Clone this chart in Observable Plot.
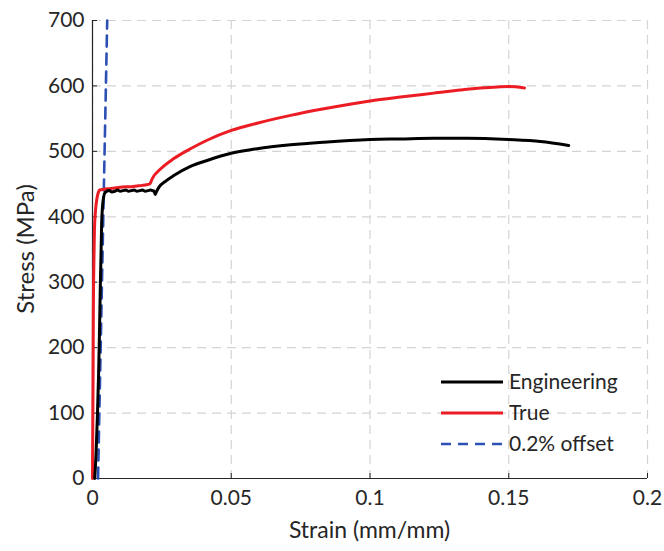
<!DOCTYPE html>
<html>
<head>
<meta charset="utf-8">
<script src="https://cdn.jsdelivr.net/npm/d3@7"></script>
<script src="https://cdn.jsdelivr.net/npm/@observablehq/plot@0.6"></script>
<style>
  body { margin: 0; background: #fff; }
  #wrap { position: relative; width: 664px; height: 551px; font-family: Lato, sans-serif; }
  #legend { position: absolute; left: 0; top: 0; pointer-events: none; }
</style>
</head>
<body>
<div id="wrap"></div>
<script>
// ---- data ----
const engStrain = [0.0008,0.0013,0.0018,0.0022,0.0025,0.0028,0.0031,0.0033,0.0036,0.0040,0.0045,0.006,0.007,0.008,0.009,0.010,0.011,0.012,0.013,0.014,0.015,0.016,0.017,0.018,0.019,0.020,0.021,0.0215,0.0222,0.0226,0.0229,0.0239,0.0265,0.0293,0.0353,0.0413,0.05,0.0593,0.0714,0.0834,0.1,0.111,0.123,0.135,0.15,0.1614,0.1716];
const engStress = [0,40,100,160,220,290,350,390,415,430,437,440,438,439,441,439,440,441,439,440,441,439,440,441,439,440,441,440,439,434,437,445,455,463,477,486,497,504,510,514,518,519,520,520,518,515,509];

const trueStrain = [0,0.0001,0.0002,0.0003,0.0005,0.0007,0.0011,0.0016,0.0021,0.0026,0.004,0.006,0.008,0.010,0.012,0.014,0.016,0.018,0.0195,0.0205,0.0209,0.0215,0.0245,0.0293,0.0353,0.0413,0.05,0.0593,0.0714,0.0834,0.1,0.111,0.123,0.135,0.1446,0.15,0.1557];
const trueStress = [0,80,150,250,330,380,410,428,437,441,442,443,444,445,446,446,447,448,449,450,452,458,473,489,504,517,532,543,555,565,577,583,589,595,598,599,597];

const offsetStrain = [0.002, 0.0053];
const offsetStress = [0, 700];

const xTicks = [0, 0.05, 0.1, 0.15, 0.2];
const yTicks = [0, 100, 200, 300, 400, 500, 600, 700];
const seriesNames = ["Engineering", "True", "0.2% offset"];
const seriesColors = ["#000000", "#ec1c24", "#2d50b4"];
const xLabel = "Strain (mm/mm)";
const yLabel = "Stress (MPa)";

const eng = engStrain.map((x, i) => ({x, y: engStress[i]}));
const tru = trueStrain.map((x, i) => ({x, y: trueStress[i]}));
const off = offsetStrain.map((x, i) => ({x, y: offsetStress[i]}));

const W = 664, H = 551, mL = 92, mR = 17, mT = 20, mB = 73;
const frameW = W - mL - mR, frameH = H - mT - mB;
const axisColor = "#262626";

const chart = Plot.plot({
  width: W, height: H,
  marginLeft: mL, marginRight: mR, marginTop: mT, marginBottom: mB,
  style: {fontFamily: "Lato, sans-serif", fontSize: "21px", color: axisColor, background: "#fff"},
  x: {domain: [0, 0.2]},
  y: {domain: [0, 700]},
  marks: [
    Plot.gridX(xTicks, {stroke: "#d4d4d4", strokeOpacity: 1, strokeWidth: 1.2, strokeDasharray: "9,6"}),
    Plot.gridY(yTicks, {stroke: "#d4d4d4", strokeOpacity: 1, strokeWidth: 1.2, strokeDasharray: "9,6"}),
    Plot.axisX(xTicks, {tickSize: 0, tickPadding: 12, tickFormat: d => d === 0 ? "0" : String(d), label: null, fontSize: 21}),
    Plot.axisY(yTicks, {tickSize: 0, tickPadding: 8, label: null, fontSize: 21}),
    Plot.tickX(xTicks, {x: d => d, stroke: axisColor, strokeWidth: 1, insetTop: frameH - 5}),
    Plot.tickY(yTicks, {y: d => d, stroke: axisColor, strokeWidth: 1, insetRight: frameW - 5}),
    Plot.ruleX([0], {stroke: axisColor, strokeWidth: 1.2}),
    Plot.ruleY([0], {stroke: axisColor, strokeWidth: 1.2}),
    Plot.line(off, {x: "x", y: "y", stroke: seriesColors[2], strokeWidth: 2.6, strokeDasharray: "11,7"}),
    Plot.line(tru, {x: "x", y: "y", stroke: seriesColors[1], strokeWidth: 3, curve: "monotone-x"}),
    Plot.line(eng, {x: "x", y: "y", stroke: seriesColors[0], strokeWidth: 3, curve: "monotone-x"})
  ]
});
document.getElementById("wrap").appendChild(chart);

// overlay: axis titles and legend (inside the axes, lower right)
const lg = d3.select("#wrap").append("svg").attr("id", "legend").attr("width", W).attr("height", H)
  .attr("font-family", "Lato, sans-serif").attr("fill", axisColor);
lg.append("text").attr("x", mL + frameW / 2).attr("y", 530).attr("dy", "0.35em")
  .attr("text-anchor", "middle").attr("font-size", 23).text(xLabel);
lg.append("text").attr("transform", `translate(26, ${mT + frameH / 2}) rotate(-90)`).attr("dy", "0.35em")
  .attr("text-anchor", "middle").attr("font-size", 24).text(yLabel);
const rows = lg.selectAll("g.row").data(seriesNames).join("g").attr("class", "row")
  .attr("transform", (d, i) => `translate(441, ${382 + i * 31})`);
rows.append("line").attr("x1", 0).attr("x2", 62).attr("y1", 0).attr("y2", 0)
  .attr("stroke", (d, i) => seriesColors[i])
  .attr("stroke-width", (d, i) => i === 2 ? 2.6 : 3)
  .attr("stroke-dasharray", (d, i) => i === 2 ? "10,7" : null);
rows.append("text").attr("x", 68).attr("y", 0).attr("dy", "0.35em")
  .attr("font-size", 21).text(d => d);
</script>
</body>
</html>
